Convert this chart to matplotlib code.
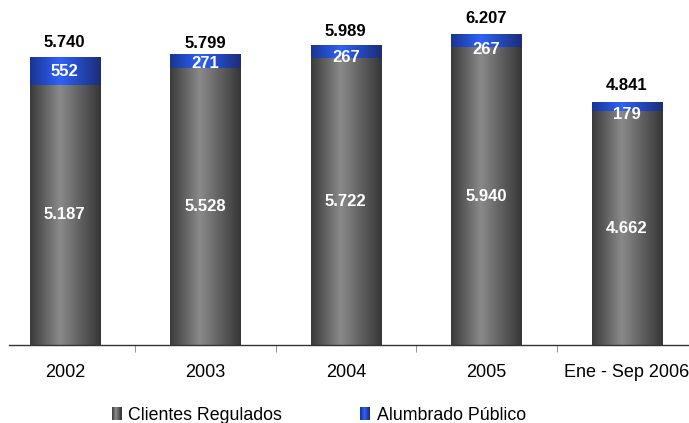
import numpy as np
import matplotlib.pyplot as plt
from matplotlib.colors import LinearSegmentedColormap
from matplotlib.patches import Rectangle
from matplotlib.legend_handler import HandlerBase

plt.rcParams['font.family'] = ['Liberation Sans', 'DejaVu Sans']

periods = ['2002', '2003', '2004', '2005', 'Ene - Sep 2006']
regulados = [5187, 5528, 5722, 5940, 4662]
alumbrado = [552, 271, 267, 267, 179]
totales = [5740, 5799, 5989, 6207, 4841]
tot_labels = ['5.740', '5.799', '5.989', '6.207', '4.841']
reg_labels = ['5.187', '5.528', '5.722', '5.940', '4.662']
alu_labels = ['552', '271', '267', '267', '179']

gray_cm = LinearSegmentedColormap.from_list(
    'cyl_gray', [(0, '#3a3a3a'), (0.42, '#8a8a8a'), (1, '#363636')])
blue_cm = LinearSegmentedColormap.from_list(
    'cyl_blue', [(0, '#1a3490'), (0.42, '#2f62fa'), (1, '#1a2d78')])


def shade(ax, patches, cmap):
    # paint each bar with a horizontal gradient so it looks like a cylinder
    grad = np.linspace(0, 1, 256).reshape(1, -1)
    for p in patches:
        x0, y0 = p.get_x(), p.get_y()
        im = ax.imshow(grad, cmap=cmap, aspect='auto', zorder=2,
                       extent=[x0, x0 + p.get_width(), y0, y0 + p.get_height()])
        im.set_clip_path(p)
        p.set_facecolor('none')


class GradHandler(HandlerBase):
    def __init__(self, cmap):
        super().__init__()
        self.cmap = cmap

    def create_artists(self, legend, orig, xd, yd, w, h, fontsize, trans):
        n = 24
        arts = []
        for i in range(n):
            arts.append(Rectangle((-xd + i * w / n, -yd), w / n + 0.3, h,
                                  facecolor=self.cmap((i + 0.5) / n),
                                  edgecolor='none', linewidth=0, transform=trans))
        return arts


fig = plt.figure(figsize=(6.89, 4.23), dpi=100)
ax = fig.add_axes([-5.5 / 689, 78 / 423, 702.5 / 689, 341 / 423])

x = np.arange(len(periods))
b1 = ax.bar(x, regulados, width=0.5, color='#5a5a5a', linewidth=0)
b2 = ax.bar(x, alumbrado, width=0.5, bottom=regulados, color='#2448c0', linewidth=0)
shade(ax, b1, gray_cm)
shade(ax, b2, blue_cm)

# label nudges in points (totals upward, street lighting downward)
tot_off = [5.4, 2.2, 4, 5.4, 6.8]
alu_off = [0, -1.5, -4.5, -6.5, -5.4]
for i in x:
    ax.annotate(tot_labels[i], (i, totales[i]), xytext=(0, tot_off[i]),
                textcoords='offset points', ha='center', va='bottom',
                fontsize=12, fontweight='bold', color='black')
    ax.text(i, regulados[i] / 2, reg_labels[i], ha='center', va='center',
            fontsize=12, fontweight='bold', color='white', zorder=4)
    ax.annotate(alu_labels[i], (i, regulados[i] + alumbrado[i] / 2),
                xytext=(0, alu_off[i]), textcoords='offset points',
                ha='center', va='center', fontsize=12, fontweight='bold',
                color='white', zorder=4)

ax.set_xlim(-0.5, 4.5)
ax.set_ylim(0, 6800)
for s in ['top', 'right', 'left', 'bottom']:
    ax.spines[s].set_visible(False)
ax.plot([-0.4, 4.6], [0, 0], color='#333333', lw=1, clip_on=False, zorder=3)
ax.set_yticks([])
ax.set_xticks(x, periods, fontsize=13)
ax.tick_params(axis='x', which='major', length=0, pad=14)
ax.set_xticks([0.5, 1.5, 2.5, 3.5], minor=True)
ax.tick_params(axis='x', which='minor', length=5, color='#808080', direction='out')

h1 = Rectangle((0, 0), 1, 1)
h2 = Rectangle((0, 0), 1, 1)
fig.legend([h1, h2], ['Clientes Regulados', 'Alumbrado Público'],
           handler_map={h1: GradHandler(gray_cm), h2: GradHandler(blue_cm)},
           loc='center left', bbox_to_anchor=(112 / 689, 8 / 423), ncol=2,
           frameon=False, fontsize=12.8, borderpad=0, borderaxespad=0,
           handlelength=0.52, handleheight=0.7, handletextpad=0.4,
           columnspacing=4.4)

fig.savefig('out.png', dpi=100)
